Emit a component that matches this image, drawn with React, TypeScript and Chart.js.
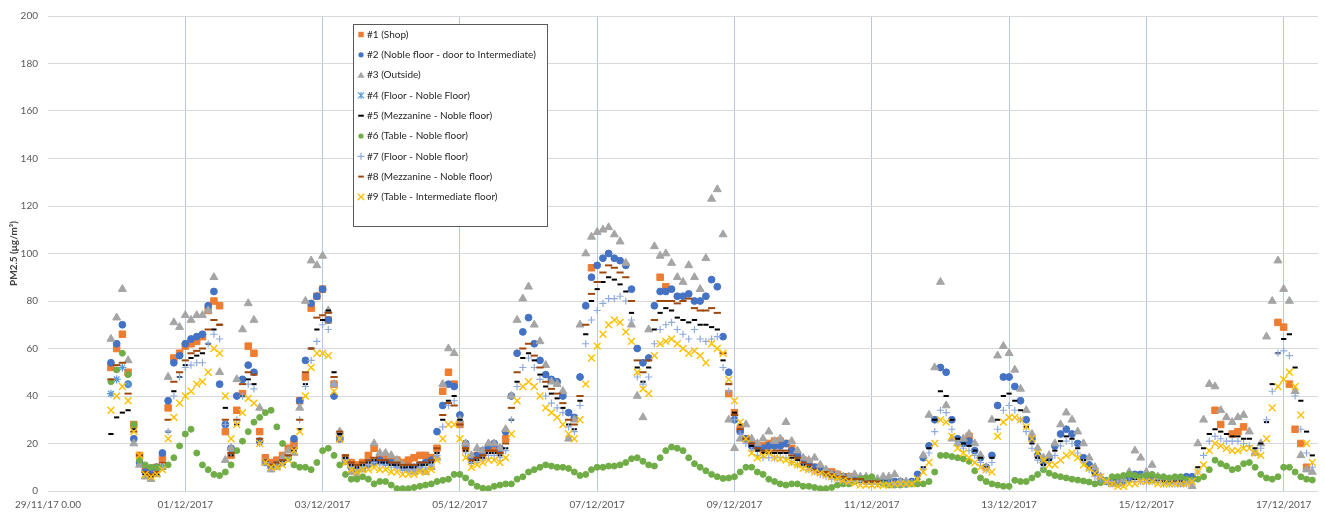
import React, { useEffect, useRef } from 'react';
import { Chart, registerables } from 'chart.js';

Chart.register(...registerables);

const _ = null;
// readings every 2 hours, first one on 29/11/17 22:00 (x axis = days after 29/11/17 0:00)
const START_DAY = 22 / 24;
const STEP_DAY = 2 / 24;

const xTickDays = [0, 2, 4, 6, 8, 10, 12, 14, 16, 18];
const xTickLabels = ['29/11/17 0.00', '01/12/2017', '03/12/2017', '05/12/2017', '07/12/2017', '09/12/2017', '11/12/2017', '13/12/2017', '15/12/2017', '17/12/2017'];

const seriesNames = [
  '#1 (Shop)',
  '#2 (Noble floor - door to Intermediate)',
  '#3 (Outside)',
  '#4 (Floor - Noble Floor)',
  '#5 (Mezzanine - Noble floor)',
  '#6 (Table - Noble floor)',
  '#7 (Floor - Noble floor)',
  '#8 (Mezzanine - Noble floor)',
  '#9 (Table - Intermediate floor)',
];

const shop = [
  52,
  60, 66, 50, 28, 15, 9, 8, 10, 14, 35, 56, 58,
  61, 62, 63, 65, 76, 80, 78, 25, 15, 34, 41, 61,
  58, 25, 14, 12, 13, 15, 18, 20, 38, 48, 77, 82,
  85, 72, 45, 22, 14, 12, 11, 12, 15, 18, 14, 14,
  13, 13, 12, 13, 14, 15, 15, 14, 18, 42, 50, 45,
  28, 18, 14, 15, 16, 18, 18, 17, 22, _, _, _,
  _, _, _, _, _, _, _, _, _, _, _, 94,
  _, _, _, _, _, _, _, _, _, _, _, 90,
  86, _, _, _, _, _, _, _, _, _, _, 41,
  33, 26, 22, 20, 19, 19, 20, 21, 21, 20, 18, 15,
  13, 12, 10, 9, 8, 8, 7, 6, 6, 5, 5, 5,
  _, _, _, _, _, _, _, _, _, _, _, _,
  _, _, _, _, _, 23, _, _, _, _, _, _,
  _, _, _, _, _, _, _, _, _, _, _, _,
  _, _, _, _, _, _, _, _, _, _, _, _,
  _, _, _, _, _, _, _, _, _, _, _, _,
  34, 28, _, 24, 25, 27, _, _, _, _, _, 71,
  69, 45, 26, 20, 10, _,
];

const nobleDoor = [
  54,
  62, 70, 45, 22, 12, 8, 8, 10, 16, 38, 54, 57,
  62, 64, 65, 66, 78, 84, 45, 28, 18, 40, 47, 53,
  50, 21, 12, 10, 11, 12, 14, 22, 38, 55, 79, 82,
  85, 72, 40, 22, 13, 10, 9, 10, 11, 12, 13, 12,
  12, 11, 10, 10, 10, 11, 12, 13, 25, 36, 45, 44,
  32, 20, 14, 15, 17, 19, 20, 18, 25, 40, 58, 67,
  73, 62, 55, 49, 47, 46, 40, 33, 31, 48, 78, 90,
  95, 98, 100, 98, 97, 95, 85, 60, 54, 56, 78, 84,
  84, 85, 82, 82, 83, 80, 80, 82, 89, 86, 65, 50,
  30, 25, 22, 19, 18, 18, 19, 19, 19, 20, 17, 15,
  13, 11, 10, 9, 8, 7, 6, 6, 5, 5, 5, 4,
  4, 4, 4, 4, 4, 4, 3, 4, 7, 14, 19, 30,
  52, 50, 30, 22, 20, 21, 17, 14, 10, 15, 36, 48,
  48, 44, 38, 30, 22, 15, 12, 14, 19, 24, 26, 24,
  20, 14, 11, 8, 5, 4, 4, 4, 5, 6, 7, 7,
  6, 5, 5, 5, 5, 5, 5, 6, 6, _, _, _,
  _, _, _, _, _, _, _, _, _, _, _, _,
  _, _, _, _, _, _,
];

const outside = [
  64,
  73, 85, 55, 20, 11, 6, 5, 7, 10, 48, 71, 69,
  74, 72, 74, 74, 76, 90, 50, 13, 18, 47, 68, 79,
  72, 35, 12, 9, 10, 14, 17, 16, 35, 80, 97, 95,
  99, 76, 45, 25, 12, 8, 7, 9, 12, 20, 16, 16,
  15, 13, 11, 9, 8, 9, 8, 10, 14, 45, 60, 58,
  30, 20, 15, 18, 17, 20, 20, 18, 26, 40, 72, 81,
  86, 70, 63, 53, 46, 45, 42, 22, 30, 70, 100, 107,
  109, 110, 111, 108, 105, 96, 70, 40, 31, 68, 103, 99,
  100, 96, 90, 88, 95, 90, 85, 98, 123, 127, 108, 30,
  18, 22, 28, 22, 20, 22, 25, 21, 22, 29, 21, 17,
  14, 13, 14, 11, 9, 7, 7, 6, 6, 7, 6, 6,
  5, 5, 6, 6, 7, 4, 4, 3, 4, 15, 32, 52,
  88, 36, 22, 20, 22, 24, 20, 15, 10, 30, 57, 61,
  58, 51, 43, 34, 24, 18, 14, 15, 20, 28, 33, 30,
  25, 20, 14, 10, 6, 4, 3, 3, 5, 8, 17, 14,
  8, 11, 6, 5, 4, 5, 3, 4, 2, 20, 30, 45,
  44, 34, 31, 29, 31, 32, 25, 16, 20, 65, 80, 97,
  85, 80, 42, 15, 9, 8,
];

const floorNobleA = [
  41,
  47, 52, 45, _, _, _, _, _, _, _, _, _,
];

const mezzanineA = [
  24,
  31, 33, 34, 26, 15, 7, 6, 7, 10, 25, 42, 48,
  53, 56, 57, 58, 62, 68, 70, 35, 15, 28, 40, 47,
  45, 20, 12, 10, 11, 12, 14, 17, 26, 45, 60, 68,
  72, 76, 50, 24, 14, 11, 10, 11, 12, 13, 12, 12,
  11, 11, 10, 10, 10, 11, 11, 12, 16, 30, 38, 40,
  30, 17, 12, 13, 14, 16, 16, 15, 18, 30, 46, 56,
  58, 55, 49, 44, 41, 39, 35, 28, 26, 38, 66, 80,
  85, 88, 90, 89, 87, 84, 75, 52, 46, 52, 68, 75,
  77, 76, 73, 72, 71, 72, 70, 70, 69, 68, 55, 45,
  33, 28, 22, 19, 17, 16, 16, 16, 16, 16, 14, 13,
  11, 10, 9, 8, 7, 6, 6, 5, 5, 4, 4, 4,
  4, 4, 4, 3, 3, 3, 3, 3, 5, 10, 18, 30,
  42, 40, 30, 22, 20, 19, 17, 14, 10, 14, 30, 40,
  41, 38, 34, 27, 20, 14, 11, 13, 17, 21, 23, 22,
  18, 13, 10, 7, 5, 4, 3, 3, 3, 4, 5, 5,
  4, 4, 4, 4, 4, 4, 4, 4, 5, 10, 18, 24,
  26, 25, 24, 23, 23, 22, 22, 18, 20, 29, 45, 58,
  64, 66, 52, 38, 25, 15,
];

const tableNoble = [
  46,
  51, 58, 49, 28, 13, 11, 10, 10, 10, 11, 14, 19,
  24, 26, 16, 11, 9, 7, 6.5, 8, 11, 17, 21, 25,
  29, 31, 33, 34, 27, 20, 14, 11, 10, 10, 9, 12,
  17, 18, 15, 11, 7, 5, 5, 6, 5, 3, 4, 4,
  2.5, 1, 1, 1, 1.5, 2, 2.5, 3, 4, 4.5, 5, 7,
  7, 5.5, 3.5, 2, 1.2, 1, 2, 2.5, 3, 3, 5, 6,
  8, 9, 10, 11, 10.5, 10, 10, 9.5, 8, 6.5, 7, 9,
  10, 10, 10.5, 10.5, 11, 12, 13.6, 14, 12.5, 11, 10.5, 14,
  17, 18.5, 18, 17, 14, 11.5, 10, 8.5, 7, 6, 5.3, 5.5,
  6, 8, 10, 10, 8, 7, 5, 4, 3, 2.5, 3, 3,
  2, 2, 1.5, 1, 1, 1.5, 2.5, 3, 3, 4, 5, 5.5,
  6, 4, 3, 2.5, 2.5, 2.5, 3, 3, 3, 3, 4, 8,
  15, 15, 14.5, 14, 13.5, 12.5, 8.5, 5.5, 4, 3, 2.5, 2,
  2, 4.5, 4, 4, 5.5, 7, 9, 7.5, 6.5, 6, 5.5, 5,
  4.6, 4.2, 3.8, 3, 3.5, 4.5, 6, 6, 6.5, 7, 6.5, 6,
  6.5, 7, 6, 6, 5.5, 6, 6, 5, 4.6, 5, 6, 9,
  13, 11.5, 10.5, 9, 9.5, 11.5, 12, 10, 7, 5.5, 5, 6,
  10, 10, 8, 6, 5, 4.6,
];

const floorNobleB = [
  _,
  _, _, _, _, _, _, _, _, 10, 25, 40, 48,
  52, 53, 54, 54, 62, 66, 64, 28, 16, 30, 40, 45,
  43, 20, 12, 10, 11, 12, 14, 18, 30, 44, 55, 63,
  70, 68, 45, 22, 13, 10, 9, 10, 11, 12, 11, 11,
  10, 10, 9, 9, 9, 10, 10, 11, 15, 27, 36, 38,
  28, 16, 12, 12, 13, 15, 15, 14, 17, 30, 44, 52,
  56, 52, 47, 40, 37, 35, 33, 27, 25, 36, 62, 72,
  76, 79, 81, 81, 82, 80, 72, 48, 45, 48, 62, 68,
  70, 71, 68, 66, 64, 68, 64, 63, 64, 65, 52, 42,
  30, 24, 20, 17, 15, 14, 14, 14, 14, 14, 12, 11,
  10, 9, 8, 7, 6, 5, 5, 4, 4, 4, 4, 3,
  3, 3, 3, 3, 3, 3, 3, 3, 5, 9, 16, 25,
  34, 33, 26, 20, 18, 17, 15, 12, 9, 12, 26, 34,
  36, 34, 30, 25, 18, 13, 10, 12, 15, 19, 21, 20,
  16, 12, 9, 6, 5, 4, 3, 3, 3, 4, 4, 4,
  4, 4, 4, 3, 3, 3, 3, 3, 4, 8, 15, 21,
  23, 22, 21, 21, 21, 20, 19, 16, 18, 30, 42, 58,
  59, 57, 40, 26, 16, 10,
];

const mezzanineB = [
  47,
  53, 54, 41, 25, 15, 8, 7, 8, 12, 30, 46, 50,
  55, 58, 59, 60, 68, 72, 70, 30, 16, 30, 45, 50,
  49, 22, 13, 11, 12, 13, 15, 18, 30, 50, 60, 73,
  74, 75, 48, 25, 15, 12, 11, 12, 13, 14, 13, 13,
  12, 12, 11, 11, 11, 12, 12, 13, 18, 32, 37, 36,
  28, 18, 13, 14, 15, 17, 17, 16, 20, 35, 50, 60,
  62, 57, 52, 46, 43, 41, 37, 30, 28, 40, 70, 83,
  88, 92, 95, 94, 92, 90, 80, 55, 50, 55, 72, 80,
  80, 80, 79, 80, 81, 77, 76, 76, 77, 75, 58, 45,
  32, 26, 22, 20, 18, 17, 17, 17, 17, 17, 15, 14,
  12, 11, 9, 8, 8, 7, 6, 6, 5, 5, 5, 4,
  4, 4,
];

const tableIntermediate = [
  34,
  40, 44, 38, 25, 15, 7, 6, 7, 9, 22, 31, 37,
  40, 42, 45, 46, 50, 60, 58, 40, 22, 28, 33, 39,
  37, 20, 12, 10, 10, 11, 13, 17, 25, 40, 52, 58,
  58, 57, 42, 22, 12, 9, 8, 9, 9, 10, 9, 9,
  8, 8, 7, 7, 7, 8, 8, 9, 13, 22, 28, 28,
  22, 14, 10, 11, 12, 13, 13, 12, 14, 24, 38, 44,
  46, 44, 40, 35, 33, 31, 28, 24, 22, 30, 45, 56,
  61, 66, 70, 72, 71, 67, 63, 50, 43, 41, 57, 62,
  63, 64, 62, 60, 58, 59, 57, 54, 62, 60, 58, 47,
  38, 29, 22, 16, 14, 15, 16, 14, 13.5, 13, 12, 11,
  9.5, 9, 8, 7.5, 6.7, 6, 5.3, 4.5, 3.9, 3.2, 2.5, 2.5,
  2.5, 2.5, 2.5, 2.5, 3, 3, 3, 3, 5, 8, 12, 20,
  30, 29, 23, 18, 16, 14, 12, 10, 9, 8, 23, 29,
  31, 31, 30, 27, 22, 16, 13, 11, 11, 13, 15, 16,
  14, 11, 9.5, 7.5, 6, 4, 3, 2, 2, 3, 3, 4,
  4, 4, 3, 3, 3, 3, 3, 3, 4, 8, 11, 17,
  20, 19, 18, 17, 17, 18, 18, 16, 15, 22, 35, 44,
  47, 50, 44, 32, 20, 12,
];

const seriesValues = [shop, nobleDoor, outside, floorNobleA, mezzanineA, tableNoble, floorNobleB, mezzanineB, tableIntermediate];

const FONT = 'Lato, "Liberation Sans", sans-serif';

type Style = { point: string; radius: number; color: string; width: number; fill: boolean };
const styles: Style[] = [
  { point: 'rect', radius: 4.6, color: '#ED7D31', width: 1, fill: true },
  { point: 'circle', radius: 3.4, color: '#4472C4', width: 1, fill: true },
  { point: 'triangle', radius: 4.6, color: '#A5A5A5', width: 1, fill: true },
  { point: 'star', radius: 4, color: '#5B9BD5', width: 1.2, fill: false },
  { point: 'line', radius: 2.6, color: '#000000', width: 2, fill: false },
  { point: 'circle', radius: 3, color: '#70AD47', width: 1, fill: true },
  { point: 'cross', radius: 3.6, color: '#8FAADC', width: 1.2, fill: false },
  { point: 'line', radius: 3.6, color: '#9E480E', width: 2, fill: false },
  { point: 'crossRot', radius: 4.8, color: '#FFC000', width: 1.4, fill: false },
];

function drawLegendMarker(ctx: CanvasRenderingContext2D, s: Style, x: number, y: number) {
  ctx.save();
  ctx.fillStyle = s.color;
  ctx.strokeStyle = s.color;
  ctx.lineWidth = s.width;
  ctx.beginPath();
  switch (s.point) {
    case 'rect':
      ctx.fillRect(x - 2.7, y - 2.7, 5.4, 5.4);
      break;
    case 'circle':
      ctx.arc(x, y, 2.6, 0, Math.PI * 2);
      ctx.fill();
      break;
    case 'triangle':
      ctx.moveTo(x, y - 3.4);
      ctx.lineTo(x + 3.6, y + 2.6);
      ctx.lineTo(x - 3.6, y + 2.6);
      ctx.closePath();
      ctx.fill();
      break;
    case 'star':
      ctx.moveTo(x - 3, y - 3); ctx.lineTo(x + 3, y + 3);
      ctx.moveTo(x + 3, y - 3); ctx.lineTo(x - 3, y + 3);
      ctx.moveTo(x, y - 3.5); ctx.lineTo(x, y + 3.5);
      ctx.stroke();
      break;
    case 'line':
      ctx.moveTo(x - 2.8, y); ctx.lineTo(x + 2.8, y);
      ctx.stroke();
      break;
    case 'cross':
      ctx.moveTo(x - 3.5, y); ctx.lineTo(x + 3.5, y);
      ctx.moveTo(x, y - 3.5); ctx.lineTo(x, y + 3.5);
      ctx.stroke();
      break;
    case 'crossRot':
      ctx.moveTo(x - 3.2, y - 3.2); ctx.lineTo(x + 3.2, y + 3.2);
      ctx.moveTo(x + 3.2, y - 3.2); ctx.lineTo(x - 3.2, y + 3.2);
      ctx.stroke();
      break;
  }
  ctx.restore();
}

const boxLegend = {
  id: 'boxLegend',
  afterDatasetsDraw(chart: any) {
    const ctx: CanvasRenderingContext2D = chart.ctx;
    ctx.save();
    const bx = 353.5, by = 24.5, bw = 194, bh = 202;
    ctx.fillStyle = '#ffffff';
    ctx.fillRect(bx, by, bw, bh);
    ctx.strokeStyle = '#595959';
    ctx.lineWidth = 1;
    ctx.strokeRect(bx, by, bw, bh);
    ctx.font = `10px ${FONT}`;
    ctx.textBaseline = 'middle';
    ctx.textAlign = 'left';
    seriesNames.forEach((name, i) => {
      const cy = 34.5 + i * 20.3;
      drawLegendMarker(ctx, styles[i], 361, cy);
      ctx.fillStyle = '#262626';
      ctx.fillText(name, 367, cy);
    });
    ctx.restore();
  },
};

export default function App() {
  const canvasRef = useRef<HTMLCanvasElement | null>(null);

  useEffect(() => {
    if (!canvasRef.current) return;
    const datasets = seriesValues.map((vals, i) => {
      const pts: { x: number; y: number }[] = [];
      vals.forEach((v, k) => {
        if (v !== null && v !== undefined) pts.push({ x: START_DAY + k * STEP_DAY, y: v as number });
      });
      const s = styles[i];
      return {
        label: seriesNames[i],
        data: pts,
        order: 9 - i,
        pointStyle: s.point,
        pointRadius: s.radius,
        pointHoverRadius: s.radius,
        pointBorderWidth: s.width,
        pointBackgroundColor: s.fill ? s.color : 'rgba(0,0,0,0)',
        pointBorderColor: s.color,
        showLine: false,
      };
    });

    const chart = new Chart(canvasRef.current, {
      type: 'scatter',
      data: { datasets } as any,
      plugins: [boxLegend],
      options: {
        animation: false,
        responsive: true,
        maintainAspectRatio: false,
        devicePixelRatio: 1,
        events: [],
        layout: { padding: { top: 12, right: 7, left: 0, bottom: 0 } },
        plugins: {
          legend: { display: false },
          tooltip: { enabled: false },
        },
        scales: {
          x: {
            type: 'linear',
            min: 0,
            max: 18.5,
            afterBuildTicks: (scale: any) => {
              scale.ticks = xTickDays.map((v) => ({ value: v }));
            },
            afterFit: (scale: any) => {
              scale.height = 23;
            },
            ticks: {
              autoSkip: false,
              maxRotation: 0,
              minRotation: 0,
              padding: 8,
              color: '#595959',
              font: { family: FONT, size: 10 },
              callback: (value: any) => {
                const idx = xTickDays.indexOf(Number(value));
                return idx >= 0 ? xTickLabels[idx] : '';
              },
            },
            grid: {
              color: (c: any) => (c.tick && c.tick.value === 0 ? 'rgba(0,0,0,0)' : '#B4C7E7'),
              drawTicks: false,
              lineWidth: 1,
            },
            border: { display: false },
          },
          y: {
            min: 0,
            max: 200,
            afterFit: (scale: any) => {
              scale.width = 48;
            },
            ticks: {
              stepSize: 20,
              padding: 10,
              color: '#595959',
              font: { family: FONT, size: 10 },
            },
            grid: { color: '#D9D9D9', drawTicks: false, lineWidth: 1 },
            border: { display: false },
            title: {
              display: true,
              text: 'PM2.5 (μg/m³)',
              color: '#404040',
              font: { family: FONT, size: 10, weight: 'bold' },
              padding: { top: 8, bottom: 0 },
            },
          },
        },
      } as any,
    });
    return () => chart.destroy();
  }, []);

  return (
    <div style={{ position: 'fixed', left: 0, top: 0, width: 1325, height: 514, background: '#ffffff' }}>
      <canvas ref={canvasRef} />
    </div>
  );
}
